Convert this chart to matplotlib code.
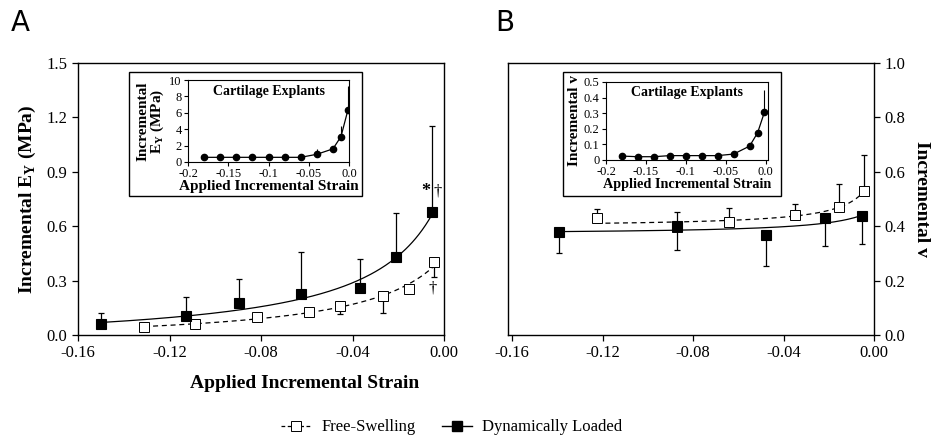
import numpy as np
import matplotlib
matplotlib.use("Agg")
import matplotlib.pyplot as plt
from matplotlib.patches import Rectangle

plt.rcParams["font.family"] = ["Liberation Serif", "DejaVu Serif"]
plt.rcParams["mathtext.fontset"] = "custom"
plt.rcParams["mathtext.rm"] = "Liberation Serif"
plt.rcParams["mathtext.bf"] = "Liberation Serif:bold"

# ---- panel A : incremental Young's modulus ----
a_dyn_x = [-0.1498, -0.1129, -0.0895, -0.0625, -0.0368, -0.0212, -0.0052]
a_dyn_y = [0.059, 0.105, 0.175, 0.225, 0.258, 0.429, 0.677]
a_dyn_hi = [0.064, 0.105, 0.135, 0.231, 0.162, 0.243, 0.473]

a_fs_x = [-0.131, -0.1088, -0.0819, -0.0592, -0.0455, -0.0266, -0.0153, -0.0045]
a_fs_y = [0.042, 0.061, 0.101, 0.129, 0.160, 0.215, 0.252, 0.401]
a_fs_lo = [0, 0, 0, 0, 0.046, 0.095, 0, 0.083]

# ---- panel B : incremental Poisson's ratio ----
b_dyn_x = [-0.1394, -0.0871, -0.0478, -0.0216, -0.0054]
b_dyn_y = [0.380, 0.401, 0.368, 0.429, 0.437]
b_dyn_lo = [0.080, 0.089, 0.114, 0.100, 0.103]
b_dyn_hi = [0, 0.051, 0, 0, 0]

b_fs_x = [-0.1226, -0.0871, -0.064, -0.0349, -0.0157, -0.0044]
b_fs_y = [0.432, 0.396, 0.415, 0.443, 0.471, 0.528]
b_fs_hi = [0.033, 0, 0.051, 0.037, 0.084, 0.135]

# ---- insets : cartilage explants ----
ins_x = [-0.18, -0.16, -0.14, -0.12, -0.10, -0.08, -0.06, -0.04, -0.02, -0.01, -0.0015]
ins_e = [0.57, 0.57, 0.57, 0.57, 0.57, 0.57, 0.57, 0.94, 1.6, 3.1, 6.3]
ins_e_hi = [0, 0, 0, 0, 0, 0, 0, 0.6, 0.4, 1.3, 3.0]
ins_v = [0.025, 0.021, 0.021, 0.028, 0.028, 0.028, 0.028, 0.038, 0.089, 0.174, 0.305]
ins_v_hi = [0, 0, 0, 0, 0, 0, 0, 0.015, 0, 0, 0.145]


def fit_curve(x, y):
    # weighted least squares fit of y = a + b / (c - x), scanning c
    x = np.asarray(x)
    y = np.asarray(y)
    w = 1 / np.sqrt(y)
    best = None
    for c in np.linspace(0.0005, 0.6, 3000):
        A = np.column_stack([np.ones_like(x), 1.0 / (c - x)]) * w[:, None]
        coef = np.linalg.lstsq(A, y * w, rcond=None)[0]
        r = np.sum((A @ coef - y * w) ** 2)
        if best is None or r < best[0]:
            best = (r, c, coef)
    _, c, (a, b) = best
    xs = np.linspace(x.min(), x.max(), 200)
    return xs, a + b / (c - xs)


def draw_series(ax, x, y, lo, hi, filled):
    xs, ys = fit_curve(x, y)
    ax.plot(xs, ys, color="black", lw=0.9, ls="-" if filled else (0, (4, 3)), zorder=2)
    ax.errorbar(x, y, yerr=[lo, hi], fmt="none", ecolor="black", elinewidth=0.9,
                capsize=2.3, capthick=0.9, zorder=3)
    if filled:
        ax.plot(x, y, ls="none", marker="s", ms=7.2, mec="black", mew=0.8, mfc="black", zorder=4)
    else:
        ax.plot(x, y, ls="none", marker="s", ms=6.5, mec="black", mew=0.7, mfc="white", zorder=4)


fig = plt.figure(figsize=(9.33, 4.37), dpi=100)

axA = fig.add_axes([0.0836, 0.2334, 0.3923, 0.6224])
axB = fig.add_axes([0.5445, 0.2334, 0.3923, 0.6224])

draw_series(axA, a_fs_x, a_fs_y, a_fs_lo, [0] * len(a_fs_y), False)
draw_series(axA, a_dyn_x, a_dyn_y, [0] * len(a_dyn_y), a_dyn_hi, True)
draw_series(axB, b_fs_x, b_fs_y, [0] * len(b_fs_y), b_fs_hi, False)
draw_series(axB, b_dyn_x, b_dyn_y, b_dyn_lo, b_dyn_hi, True)

axA.set_xlim(-0.16, 0.0)
axA.set_ylim(0, 1.5)
axA.set_yticks([0.0, 0.3, 0.6, 0.9, 1.2, 1.5])
axA.set_ylabel("Incremental E$_\\mathbf{Y}$ (MPa)", fontsize=14, fontweight="bold", labelpad=6)

axB.set_xlim(-0.1618, 0.0)
axB.set_ylim(0, 1.0)
axB.yaxis.tick_right()
axB.yaxis.set_label_position("right")
axB.set_yticks([0.0, 0.2, 0.4, 0.6, 0.8, 1.0])
axB.set_ylabel("Incremental v", fontsize=14, fontweight="bold", rotation=270, labelpad=18)

for ax in (axA, axB):
    ax.set_xticks([-0.16, -0.12, -0.08, -0.04, 0.0])
    ax.set_xticklabels(["-0.16", "-0.12", "-0.08", "-0.04", "0.00"])
    ax.set_yticklabels([f"{t:.1f}" for t in ax.get_yticks()])
    ax.tick_params(direction="out", length=4, width=0.9, labelsize=12)
    for s in ax.spines.values():
        s.set_linewidth(1.0)

axA.text(-0.0082, 0.79, "*", fontsize=13, fontweight="bold", ha="center", va="center")
axA.text(-0.0028, 0.79, "\u2020", fontsize=12, ha="center", va="center")
axA.text(-0.0048, 0.255, "\u2020", fontsize=12, ha="center", va="center")

fig.text(0.012, 0.93, "A", fontsize=20, family="DejaVu Sans")
fig.text(0.531, 0.93, "B", fontsize=20, family="DejaVu Sans")
fig.text(0.327, 0.112, "Applied Incremental Strain", fontsize=14, fontweight="bold", ha="center")

# inset frames
fig.patches.append(Rectangle((0.1383, 0.5515), 0.2497, 0.2838, transform=fig.transFigure,
                             fill=False, ec="black", lw=1.0, zorder=5))
fig.patches.append(Rectangle((0.6034, 0.5515), 0.2337, 0.2838, transform=fig.transFigure,
                             fill=False, ec="black", lw=1.0, zorder=5))

insA = fig.add_axes([0.2015, 0.6293, 0.1726, 0.1876])
insB = fig.add_axes([0.6495, 0.6339, 0.1736, 0.1785])

for ins, ys, hi, ylim, yt in ((insA, ins_e, ins_e_hi, (0, 10), [0, 2, 4, 6, 8, 10]),
                              (insB, ins_v, ins_v_hi, (0, 0.5), [0, 0.1, 0.2, 0.3, 0.4, 0.5])):
    ins.errorbar(ins_x, ys, yerr=[[0] * len(ys), hi], fmt="none", ecolor="black", elinewidth=0.8)
    ins.plot(ins_x, ys, color="black", lw=0.9, marker="o", ms=4.5)
    ins.set_ylim(*ylim)
    ins.set_yticks(yt)
    ins.set_xticks([-0.2, -0.15, -0.1, -0.05, 0.0])
    ins.set_xticklabels(["-0.2", "-0.15", "-0.1", "-0.05", "0.0"])
    ins.tick_params(direction="out", length=3, width=0.8, labelsize=9, pad=1.5)
    ins.text(0.5, 0.86, "Cartilage Explants", transform=ins.transAxes, fontsize=10,
             fontweight="bold", ha="center", va="center")
    for s in ins.spines.values():
        s.set_linewidth(0.8)

insA.set_xlabel("Applied Incremental Strain", fontsize=11, fontweight="bold", labelpad=0)
insB.set_xlabel("Applied Incremental Strain", fontsize=10.3, fontweight="bold", labelpad=0)
insA.set_xlim(-0.2, 0.0)
insB.set_xlim(-0.2, 0.003)
insA.set_yticklabels(["0", "2", "4", "6", "8", "10"])
insB.set_yticklabels(["0", "0.1", "0.2", "0.3", "0.4", "0.5"])
insA.set_ylabel("Incremental\nE$_\\mathbf{Y}$ (MPa)", fontsize=11, fontweight="bold",
                labelpad=2, linespacing=0.95)
insB.set_ylabel("Incremental v", fontsize=11, fontweight="bold", labelpad=2)

# legend
h_fs, = axA.plot([], [], color="black", lw=0.9, ls=(0, (3, 2)), marker="s", ms=6.5,
                 mfc="white", mec="black", mew=0.7)
h_dyn, = axA.plot([], [], color="black", lw=1.0, marker="s", ms=7, mfc="black", mec="black")
fig.legend([h_fs, h_dyn], ["Free-Swelling", "Dynamically Loaded"], loc="center",
           bbox_to_anchor=(0.484, 0.022), ncol=2, frameon=False, fontsize=12,
           handlelength=1.8, handletextpad=0.6, columnspacing=1.6)

fig.savefig("out.png", dpi=100)
